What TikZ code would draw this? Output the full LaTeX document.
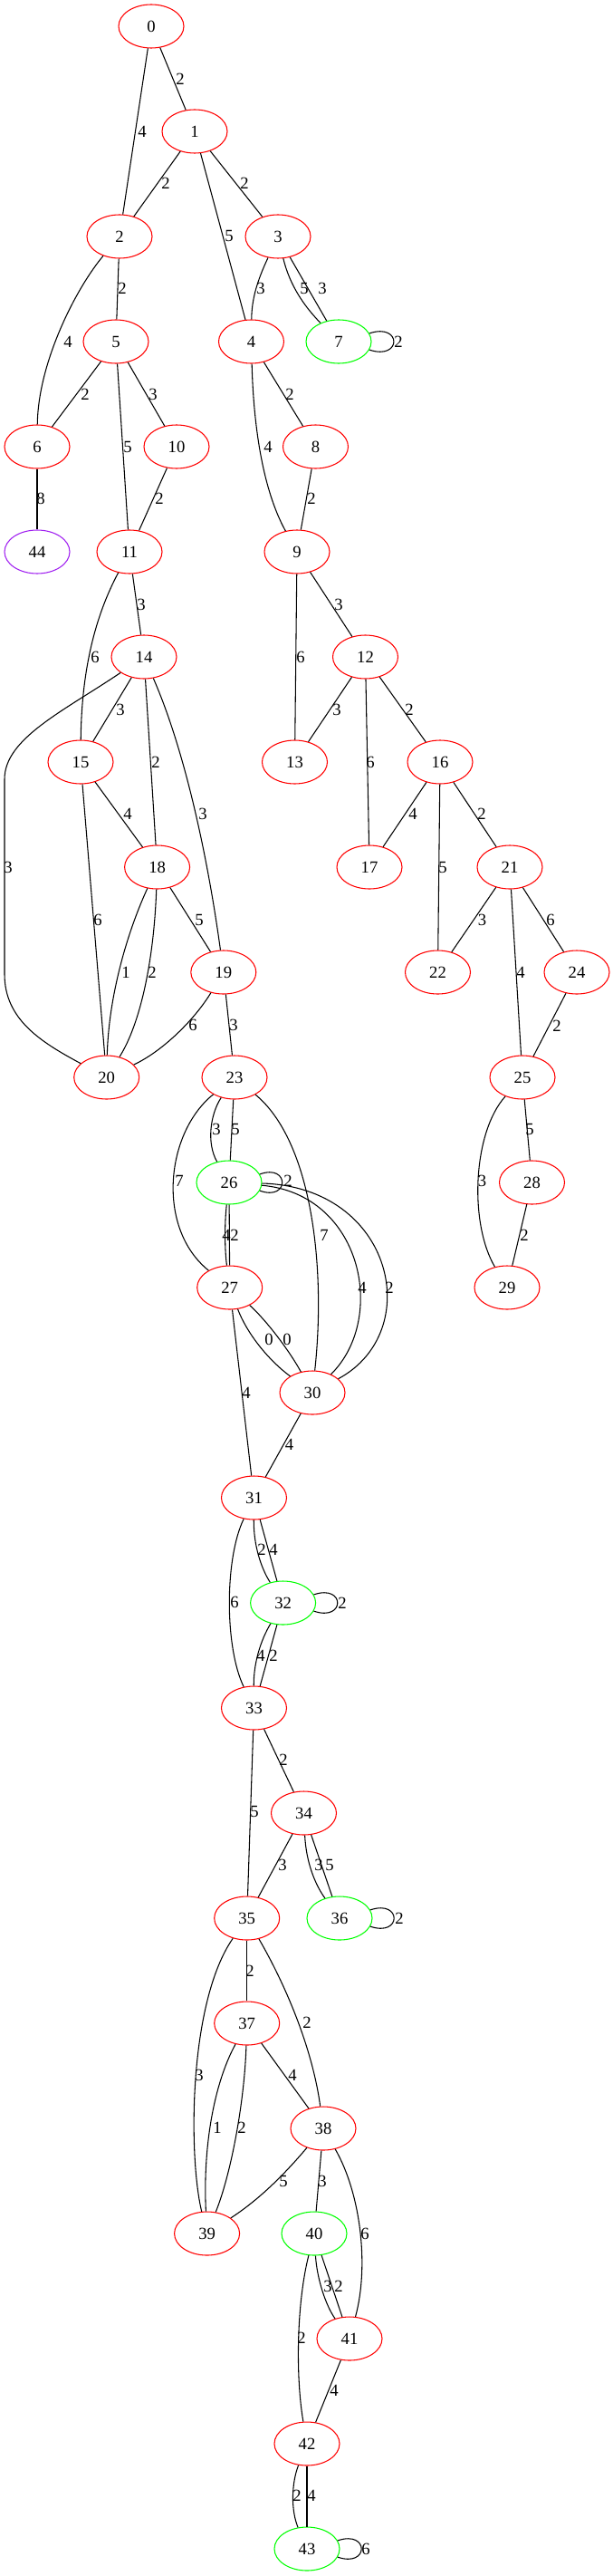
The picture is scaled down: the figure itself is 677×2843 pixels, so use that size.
\documentclass[tikz,border=0pt]{standalone}
\usepackage{fontspec}
\setmainfont{Liberation Serif}
\usepackage{tikz}
\usetikzlibrary{shapes.geometric}
\definecolor{violeta}{RGB}{160,32,240}
\tikzstyle{estado}=[ellipse,draw=red,minimum width=54pt,minimum height=36pt,inner sep=0pt,font=\fontsize{14}{16}\selectfont]
\tikzstyle{final}=[estado,draw=green]
\tikzstyle{aislado}=[estado,draw=violeta]
\tikzstyle{peso}=[inner sep=0pt,font=\fontsize{14}{16}\selectfont]

\begin{document}
\begin{tikzpicture}[x=0.75pt,y=-0.75pt,line width=0.8pt]
    \useasboundingbox (0,0) rectangle (677,2843);
    \node [estado] (n0) at (167,29) {0};
    \node [estado] (n1) at (215,145) {1};
    \node [estado] (n2) at (132,261) {2};
    \node [estado] (n3) at (307,261) {3};
    \node [estado] (n5) at (128,377) {5};
    \node [estado] (n4) at (277.5,377) {4};
    \node [final] (n7) at (374,377) {7};
    \node [estado] (n6) at (41,493) {6};
    \node [estado] (n10) at (195,493) {10};
    \node [estado] (n8) at (348.5,493) {8};
    \node [aislado] (n44) at (41,609) {44};
    \node [estado] (n11) at (143,609) {11};
    \node [estado] (n9) at (328,609) {9};
    \node [estado] (n14) at (159,725) {14};
    \node [estado] (n12) at (403.5,725) {12};
    \node [estado] (n15) at (89,841) {15};
    \node [estado] (n13) at (325.5,841) {13};
    \node [estado] (n16) at (486,841) {16};
    \node [estado] (n18) at (173.6,957) {18};
    \node [estado] (n17) at (408,957) {17};
    \node [estado] (n21) at (563,957) {21};
    \node [estado] (n19) at (246.8,1073) {19};
    \node [estado] (n22) at (483.5,1073) {22};
    \node [estado] (n24) at (637,1073) {24};
    \node [estado] (n20) at (117.7,1189) {20};
    \node [estado] (n23) at (259,1189) {23};
    \node [estado] (n25) at (577,1189) {25};
    \node [final] (n26) at (253,1305) {26};
    \node [estado] (n28) at (587.5,1305) {28};
    \node [estado] (n27) at (253.7,1421) {27};
    \node [estado] (n29) at (560,1421) {29};
    \node [estado] (n30) at (345,1537) {30};
    \node [estado] (n31) at (280.5,1653) {31};
    \node [final] (n32) at (312.6,1769) {32};
    \node [estado] (n33) at (280.5,1885) {33};
    \node [estado] (n34) at (335.5,2001) {34};
    \node [estado] (n35) at (272.7,2117) {35};
    \node [final] (n36) at (375,2117) {36};
    \node [estado] (n37) at (272.7,2233) {37};
    \node [estado] (n38) at (357,2349) {38};
    \node [estado] (n39) at (228.6,2465) {39};
    \node [final] (n40) at (347,2465) {40};
    \node [estado] (n41) at (386,2581) {41};
    \node [estado] (n42) at (339,2697) {42};
    \node [final] (n43) at (339,2813) {43};

    \draw (n0) -- (n2) node [peso] at (157,145) {4};
    \draw (n0) -- (n1) node [peso] at (199,87) {2};
    \draw (n1) -- (n2) node [peso] at (183,202) {2};
    \draw (n1) -- (n4) node [peso] at (253,260) {5};
    \draw (n1) -- (n3) node [peso] at (270,202) {2};
    \draw (n2) -- (n5) node [peso] at (135,318) {2};
    \draw (n2) .. controls (84,318) and (42,400) .. (n6) node [peso] at (75,377) {4};
    \draw (n3) .. controls (284,310) and (278,330) .. (n4) node [peso] at (288,318) {3};
    \draw (n3) .. controls (320,315) and (336,338) .. (n7) node [peso] at (336,318) {5};
    \draw (n3) -- (n7) node [peso] at (356,318) {3};
    \draw (n7.15) .. controls +(36,-12) and +(36,12) .. (n7.-15) node [peso] at (440,377) {2};
    \draw (n5) -- (n6) node [peso] at (94,435) {2};
    \draw (n5) -- (n11) node [peso] at (141,493) {5};
    \draw (n5) -- (n10) node [peso] at (169,435) {3};
    \draw (n4) .. controls (280,470) and (290,540) .. (n9) node [peso] at (296,493) {4};
    \draw (n4) -- (n8) node [peso] at (320,435) {2};
    \draw (n6) -- (n44) node [peso] at (45,550) {8};
    \draw (n10) -- (n11) node [peso] at (176,550) {2};
    \draw (n8) -- (n9) node [peso] at (344,550) {2};
    \draw (n11) .. controls (105,680) and (90,740) .. (n15) node [peso] at (105,725) {6};
    \draw (n11) -- (n14) node [peso] at (156,667) {3};
    \draw (n9) -- (n13) node [peso] at (332,725) {6};
    \draw (n9) -- (n12) node [peso] at (374,667) {3};
    \draw (n14) -- (n15) node [peso] at (133,783) {3};
    \draw (n14) -- (n18) node [peso] at (172,841) {2};
    \draw (n14) .. controls (205,830) and (230,950) .. (n19) node [peso] at (224,898) {3};
    \draw (n14) .. controls (70,785) and (5,815) .. (5,860) -- (5,1075) .. controls (5,1125) and (45,1150) .. (n20) node [peso] at (9,957) {3};
    \draw (n12) -- (n13) node [peso] at (372,783) {3};
    \draw (n12) -- (n17) node [peso] at (409,841) {6};
    \draw (n12) -- (n16) node [peso] at (452,783) {2};
    \draw (n15) -- (n18) node [peso] at (141,898) {4};
    \draw (n15) -- (n20) node [peso] at (108,1015) {6};
    \draw (n16) -- (n17) node [peso] at (456,898) {4};
    \draw (n16) -- (n22) node [peso] at (489,957) {5};
    \draw (n16) -- (n21) node [peso] at (532,898) {2};
    \draw (n18) .. controls (140,1030) and (120,1100) .. (n20) node [peso] at (139,1073) {1};
    \draw (n18) .. controls (170,1060) and (155,1130) .. (n20) node [peso] at (168,1073) {2};
    \draw (n18) -- (n19) node [peso] at (220,1015) {5};
    \draw (n19) .. controls (215,1125) and (180,1160) .. (n20) node [peso] at (213,1131) {6};
    \draw (n19) -- (n23) node [peso] at (258,1131) {3};
    \draw (n21) -- (n22) node [peso] at (532.5,1015) {3};
    \draw (n21) -- (n25) node [peso] at (575,1073) {4};
    \draw (n21) -- (n24) node [peso] at (608,1015) {6};
    \draw (n24) -- (n25) node [peso] at (615,1132) {2};
    \draw (n23) .. controls (232,1230) and (228,1262) .. (n26) node [peso] at (239,1246) {3};
    \draw (n23) -- (n26) node [peso] at (260,1246) {5};
    \draw (n23) .. controls (183,1250) and (172,1355) .. (n27) node [peso] at (198,1303) {7};
    \draw (n23) .. controls (345,1260) and (360,1400) .. (n30) node [peso] at (358,1363) {7};
    \draw (n26.15) .. controls +(33,-12) and +(33,12) .. (n26.-15) node [peso] at (318,1303) {2};
    \draw (n26) .. controls (248,1350) and (248,1378) .. (n27) node [peso] at (250,1363) {4};
    \draw (n26) -- (n27) node [peso] at (259,1363) {2};
    \draw (n26) .. controls (400,1318) and (428,1455) .. (n30) node [peso] at (400,1421) {4};
    \draw (n26) .. controls (435,1310) and (470,1470) .. (n30) node [peso] at (430,1421) {2};
    \draw (n25) -- (n28) node [peso] at (585,1246) {5};
    \draw (n25) .. controls (522,1250) and (518,1350) .. (n29) node [peso] at (532.5,1303) {3};
    \draw (n28) -- (n29) node [peso] at (579,1363) {2};
    \draw (n27) .. controls (272,1470) and (295,1500) .. (n30) node [peso] at (297,1478) {0};
    \draw (n27) .. controls (292,1455) and (318,1488) .. (n30) node [peso] at (317,1478) {0};
    \draw (n27) -- (n31) node [peso] at (272,1537) {4};
    \draw (n30) -- (n31) node [peso] at (319.5,1594) {4};
    \draw (n31) .. controls (280,1705) and (288,1730) .. (n32) node [peso] at (289,1710) {2};
    \draw (n31) -- (n32) node [peso] at (302,1710) {4};
    \draw (n31) .. controls (248,1720) and (248,1818) .. (n33) node [peso] at (259,1768) {6};
    \draw (n32.15) .. controls +(35,-12) and +(35,12) .. (n32.-15) node [peso] at (378,1769) {2};
    \draw (n32) .. controls (288,1810) and (280,1835) .. (n33) node [peso] at (288,1827) {4};
    \draw (n32) -- (n33) node [peso] at (302,1827) {2};
    \draw (n33) -- (n35) node [peso] at (281,1999) {5};
    \draw (n33) -- (n34) node [peso] at (313,1942) {2};
    \draw (n34) -- (n35) node [peso] at (312,2058) {3};
    \draw (n34) .. controls (338,2055) and (348,2080) .. (n36) node [peso] at (352,2058) {3};
    \draw (n34) -- (n36) node [peso] at (364,2058) {5};
    \draw (n36.15) .. controls +(35,-12) and +(35,12) .. (n36.-15) node [peso] at (441,2117) {2};
    \draw (n35) -- (n37) node [peso] at (276,2175) {2};
    \draw (n35) .. controls (315,2190) and (345,2260) .. (n38) node [peso] at (339,2232) {2};
    \draw (n35) .. controls (208,2210) and (208,2380) .. (n39) node [peso] at (220,2290) {3};
    \draw (n37) .. controls (236,2300) and (224,2370) .. (n39) node [peso] at (240,2348) {1};
    \draw (n37) .. controls (270,2320) and (255,2400) .. (n39) node [peso] at (267,2348) {2};
    \draw (n37) -- (n38) node [peso] at (323,2290) {4};
    \draw (n38) .. controls (318,2395) and (290,2425) .. (n39) node [peso] at (313,2407) {5};
    \draw (n38) -- (n40) node [peso] at (356,2407) {3};
    \draw (n38) .. controls (398,2420) and (408,2500) .. (n41) node [peso] at (403,2465) {6};
    \draw (n40) .. controls (350,2515) and (360,2545) .. (n41) node [peso] at (362,2523) {3};
    \draw (n40) -- (n41) node [peso] at (374,2523) {2};
    \draw (n40) .. controls (328,2540) and (326,2620) .. (n42) node [peso] at (333,2580) {2};
    \draw (n41) -- (n42) node [peso] at (369,2638) {4};
    \draw (n42) .. controls (322,2740) and (321,2770) .. (n43) node [peso] at (328,2754) {2};
    \draw (n42) -- (n43) node [peso] at (344,2754) {4};
    \draw (n43.15) .. controls +(35,-12) and +(35,12) .. (n43.-15) node [peso] at (404,2813) {6};
\end{tikzpicture}
\end{document}
